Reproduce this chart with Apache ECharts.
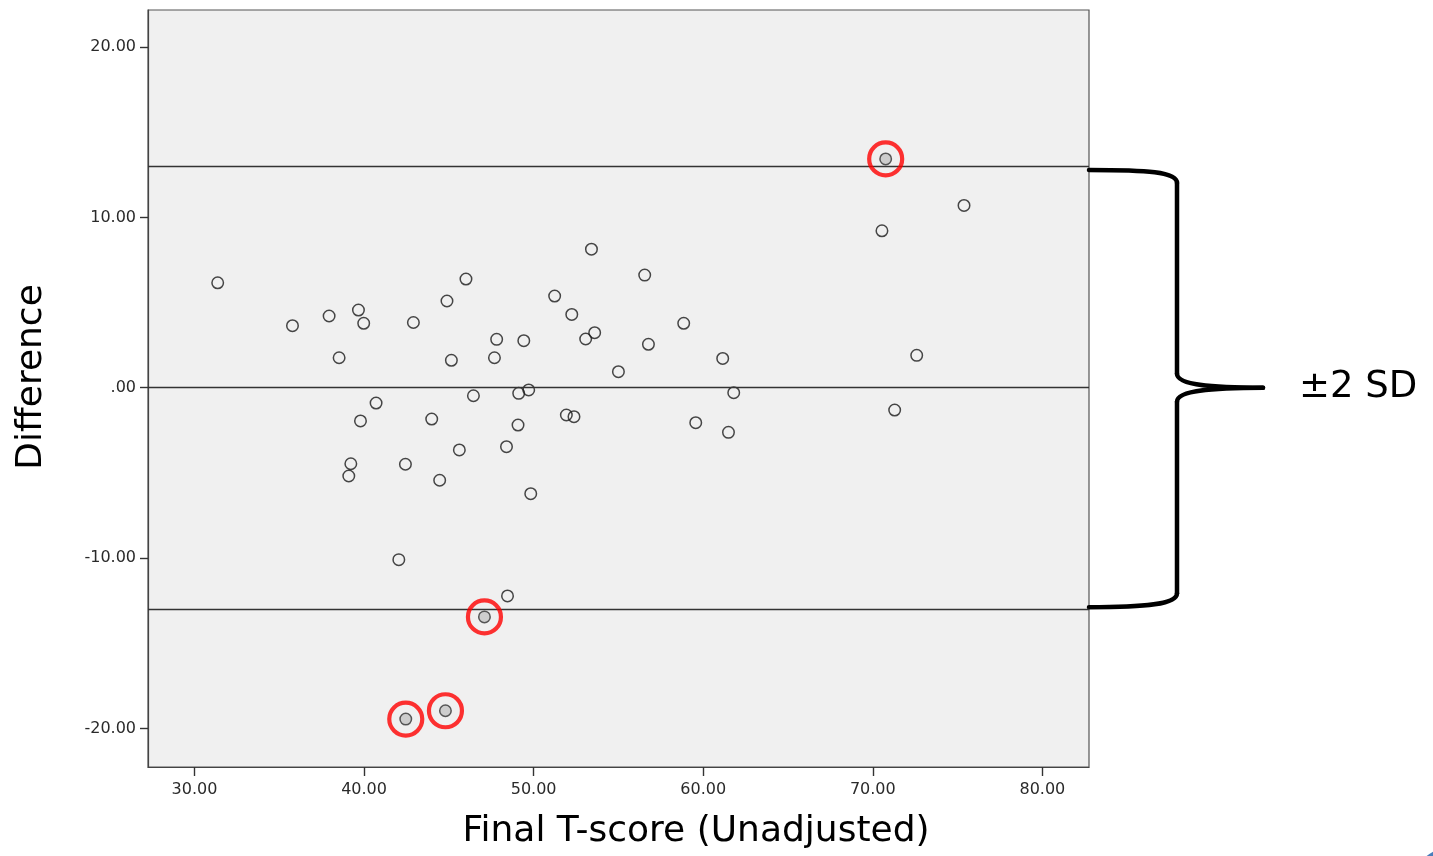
<!DOCTYPE html>
<html>
<head>
<meta charset="utf-8">
<script src="https://cdn.jsdelivr.net/npm/echarts@6/dist/echarts.min.js"></script>
<style>html,body{margin:0;padding:0;background:#fff}#c{width:1433px;height:856px}</style>
</head>
<body>
<div id="c"></div>
<script>
// Points (Final T-score, Difference)
const tScore = [31.37,35.78,37.94,39.67,39.98,38.53,42.91,44.89,46.01,45.15,47.82,47.69,49.42,51.24,52.25,53.41,53.07,53.60,55.00,56.55,75.38,70.54,58.85,56.77,61.15,72.59,61.80,40.71,39.79,43.99,46.45,49.12,49.71,51.93,52.38,49.08,45.62,48.40,39.22,39.10,42.44,44.46,49.83,42.05,48.46,59.56,61.49,71.29];
const diff   = [6.16,3.64,4.21,4.56,3.78,1.76,3.83,5.09,6.38,1.61,2.84,1.76,2.76,5.38,4.30,8.13,2.86,3.23,0.94,6.61,10.70,9.21,3.78,2.55,1.72,1.90,-0.29,-0.90,-1.95,-1.84,-0.47,-0.33,-0.13,-1.60,-1.70,-2.19,-3.65,-3.46,-4.46,-5.18,-4.49,-5.43,-6.22,-10.09,-12.22,-2.05,-2.62,-1.31];
// Outliers circled in red
const outT    = [70.76,47.10,42.46,44.80];
const outDiff = [13.43,-13.45,-19.45,-18.96];
// Reference lines: upper limit, mean, lower limit
const refLines = [13.02, 0, -13.00];
const xTicks = [30,40,50,60,70,80];
const yTicks = [-20,-10,0,10,20];
const xRange = [27.26, 82.75];
const yRange = [-22.26, 22.17];
const xTitle = 'Final T-score (Unadjusted)';
const yTitle = 'Difference';
const braceLabel = '±2 SD';

const chart = echarts.init(document.getElementById('c'), null, {renderer:'canvas'});
const fmt = v => { const s = Math.abs(v).toFixed(2); const t = (Math.abs(v) < 1 ? s.replace(/^0/, '') : s); return (v < 0 ? '-' : '') + t; };
const tickFont = {fontFamily:'DejaVu Sans, sans-serif', fontSize:16, color:'#2a2a2a'};
const titleFont = '36px DejaVu Sans, sans-serif';

chart.setOption({
  animation:false,
  backgroundColor:'#fff',
  grid:{left:148, top:10, right:344, bottom:89, show:true, backgroundColor:'#f0f0f0', borderColor:'#555', borderWidth:1.2},
  xAxis:{type:'value', min:xRange[0], max:xRange[1],
    axisLine:{show:true, onZero:false, lineStyle:{color:'#444', width:1.2}},
    axisTick:{show:true, length:9, customValues:xTicks, lineStyle:{color:'#333', width:1.4}},
    axisLabel:Object.assign({margin:15, customValues:xTicks, formatter:fmt}, tickFont),
    splitLine:{show:false}
  },
  yAxis:{type:'value', min:yRange[0], max:yRange[1],
    axisLine:{show:true, onZero:false, lineStyle:{color:'#444', width:1.2}},
    axisTick:{show:true, length:8, customValues:yTicks, lineStyle:{color:'#333', width:1.4}},
    axisLabel:Object.assign({margin:12, customValues:yTicks, formatter:fmt}, tickFont),
    splitLine:{show:false}
  },
  series:[
    {type:'scatter', data:tScore.map((x,i)=>[x,diff[i]]), symbol:'circle', symbolSize:11.5,
      itemStyle:{color:'rgba(0,0,0,0)', borderColor:'#1a1a1a', borderWidth:1.5}, z:3,
      markLine:{silent:true, symbol:'none', label:{show:false},
        lineStyle:{color:'#333', width:1.3, type:'solid'},
        data:refLines.map(v=>({yAxis:v}))}
    },
    {type:'scatter', data:outT.map((x,i)=>[x,outDiff[i]]), symbol:'circle', symbolSize:11.5,
      itemStyle:{color:'#c4c4c4', borderColor:'#333', borderWidth:1.5}, z:4},
    {type:'scatter', data:outT.map((x,i)=>[x,outDiff[i]]), symbol:'circle', symbolSize:33,
      itemStyle:{color:'rgba(0,0,0,0)', borderColor:'#ff0000', borderWidth:4.2}, z:5}
  ]
});

const px = (x,y) => chart.convertToPixel({gridIndex:0}, [x,y]);
const xr = px(xRange[1], 0)[0];
const yU = px(0, refLines[0])[1];
const y0 = px(0, refLines[1])[1];
const yL = px(0, refLines[2])[1];
const xv = xr + 88, xt = xr + 174;
const st = {stroke:'#000', lineWidth:4.5, lineCap:'round', fill:null};
chart.setOption({
  graphic:[
    {type:'bezierCurve', shape:{x1:xr, y1:yU+4, cpx1:xv-30, cpy1:yU+4, cpx2:xv, cpy2:yU+6, x2:xv, y2:yU+17}, style:st},
    {type:'line', shape:{x1:xv, y1:yU+17, x2:xv, y2:y0-14}, style:st},
    {type:'bezierCurve', shape:{x1:xv, y1:y0-14, cpx1:xv, cpy1:y0-2, cpx2:xv+40, cpy2:y0, x2:xt, y2:y0}, style:st},
    {type:'bezierCurve', shape:{x1:xt, y1:y0, cpx1:xv+40, cpy1:y0, cpx2:xv, cpy2:y0+2, x2:xv, y2:y0+14}, style:st},
    {type:'line', shape:{x1:xv, y1:y0+14, x2:xv, y2:yL-16}, style:st},
    {type:'bezierCurve', shape:{x1:xv, y1:yL-16, cpx1:xv, cpy1:yL-5, cpx2:xv-30, cpy2:yL-2, x2:xr, y2:yL-2}, style:st},
    {type:'text', x:xt+36, y:y0, style:{text:braceLabel, fill:'#000', font:'37px DejaVu Sans, sans-serif', verticalAlign:'middle', align:'left'}},
    {type:'text', x:696, y:832, style:{text:xTitle, fill:'#000', font:titleFont, verticalAlign:'middle', align:'center'}},
    {type:'text', x:32, y:377, rotation:Math.PI/2, style:{text:yTitle, fill:'#000', font:titleFont, verticalAlign:'middle', align:'center'}},
    {type:'circle', shape:{cx:1462, cy:902, r:58}, style:{fill:'#4a7ebb'}}
  ]
});
</script>
</body>
</html>
